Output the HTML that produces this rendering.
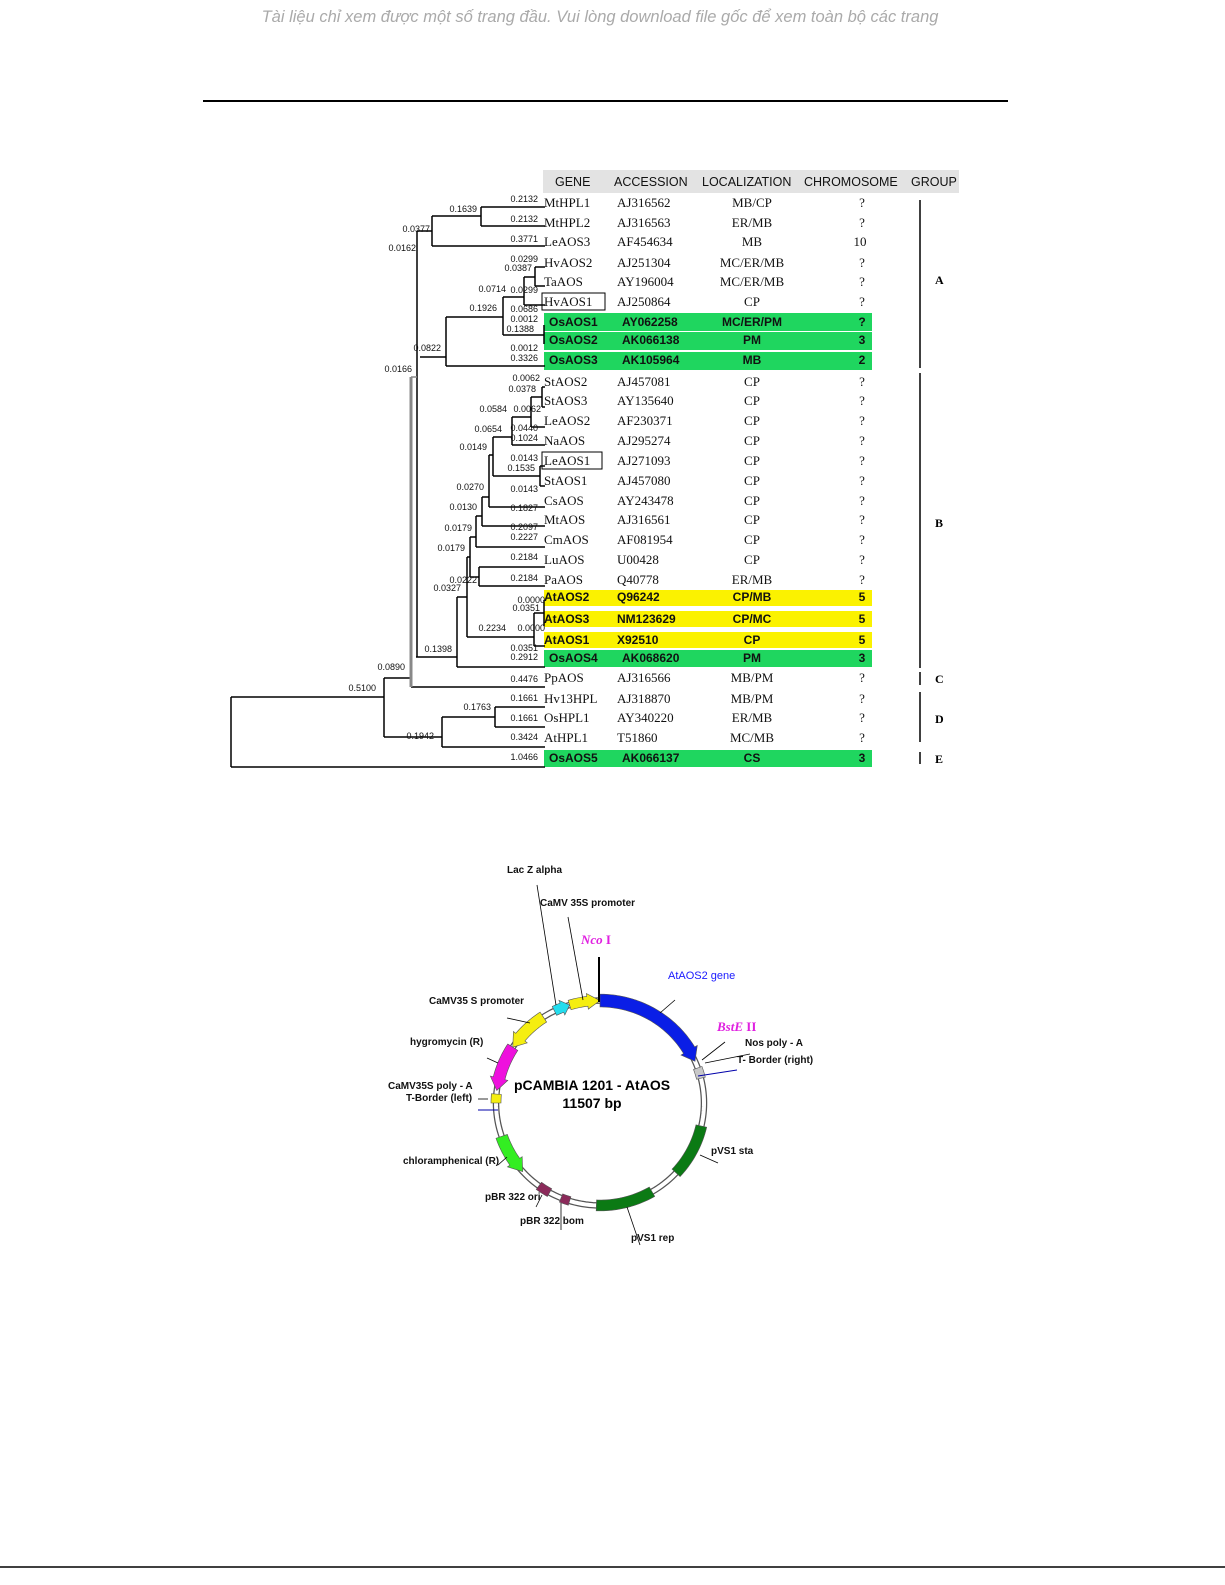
<!DOCTYPE html>
<html><head><meta charset="utf-8"><style>
html,body{margin:0;padding:0;background:#fff;}
svg{display:block;}
.s{font-family:"Liberation Serif",serif;font-size:13px;fill:#111;}
.b{font-family:"Liberation Sans",sans-serif;font-size:12px;font-weight:bold;fill:#111;}
.h{font-family:"Liberation Sans",sans-serif;font-size:12.5px;fill:#111;}
.n{font-family:"Liberation Sans",sans-serif;font-size:9px;fill:#111;}
.p{font-family:"Liberation Sans",sans-serif;font-size:10px;fill:#111;}
</style></head><body>
<svg id="sv" width="1225" height="1585" viewBox="0 0 1225 1585" xmlns="http://www.w3.org/2000/svg">
<text x="600" y="22" text-anchor="middle" font-family="Liberation Sans,sans-serif" font-size="16.5" font-style="italic" fill="#aaa">Tài liệu chỉ xem được một số trang đầu. Vui lòng download file gốc để xem toàn bộ các trang</text>
<line x1="203" y1="101" x2="1008" y2="101" stroke="#000" stroke-width="2"/>
<line x1="0" y1="1567" x2="1225" y2="1567" stroke="#000" stroke-width="1.5"/>

<rect x="543" y="170" width="416" height="23" fill="#e3e3e3"/>
<g class="h"><text x="555" y="186">GENE</text><text x="614" y="186">ACCESSION</text><text x="702" y="186">LOCALIZATION</text><text x="804" y="186">CHROMOSOME</text><text x="911" y="186">GROUP</text></g>

<g fill="#1fd65f">
<rect x="544" y="313" width="328" height="18"/><rect x="544" y="332" width="328" height="18"/><rect x="544" y="352" width="328" height="18"/>
<rect x="544" y="650" width="328" height="17"/><rect x="544" y="750" width="328" height="17"/>
</g>
<g fill="#fbf200">
<rect x="544" y="590" width="328" height="16"/><rect x="544" y="611" width="328" height="16"/><rect x="544" y="632" width="328" height="16"/>
</g>
<rect x="542" y="293" width="63" height="17" fill="none" stroke="#000" stroke-width="1"/>
<rect x="542" y="452" width="60" height="17" fill="none" stroke="#000" stroke-width="1"/>

<g id="rows"></g>

<g stroke="#000" stroke-width="1.5">
<line x1="920" y1="200" x2="920" y2="368"/><line x1="920" y1="373" x2="920" y2="668"/>
<line x1="920" y1="672" x2="920" y2="685"/><line x1="920" y1="692" x2="920" y2="742"/><line x1="920" y1="752" x2="920" y2="764"/>
</g>
<g font-family="Liberation Serif,serif" font-size="12" font-weight="bold"><text x="935" y="284">A</text><text x="935" y="527">B</text><text x="935" y="683">C</text><text x="935" y="723">D</text><text x="935" y="763">E</text></g>

<g id="tree" stroke="#000" stroke-width="1.5" fill="none"></g>
<g id="tlab" class="n" text-anchor="end"></g>

<g id="pl"></g>
<g class="p" font-weight="bold">
<text x="507" y="873">Lac Z alpha</text>
<text x="540" y="906">CaMV 35S promoter</text>
<text x="429" y="1004">CaMV35 S promoter</text>
<text x="410" y="1045">hygromycin (R)</text>
<text x="388" y="1089">CaMV35S poly - A</text>
<text x="406" y="1101">T-Border (left)</text>
<text x="745" y="1046">Nos poly - A</text>
<text x="737" y="1063">T- Border (right)</text>
<text x="711" y="1154">pVS1 sta</text>
<text x="403" y="1164">chloramphenical (R)</text>
<text x="485" y="1200">pBR 322 ori</text>
<text x="520" y="1224">pBR 322 bom</text>
<text x="631" y="1241">pVS1 rep</text>
</g>
<text x="668" y="979" font-family="Liberation Sans,sans-serif" font-size="11" fill="#1a1aff">AtAOS2 gene</text>
<text x="581" y="944" font-family="Liberation Serif,serif" font-size="13" font-weight="bold" fill="#e020e0"><tspan font-style="italic">Nco</tspan> I</text>
<text x="717" y="1031" font-family="Liberation Serif,serif" font-size="13" font-weight="bold" fill="#e020e0"><tspan font-style="italic">BstE</tspan> II</text>
<text x="592" y="1090" text-anchor="middle" font-family="Liberation Sans,sans-serif" font-size="14" font-weight="bold">pCAMBIA 1201 - AtAOS</text>
<text x="592" y="1108" text-anchor="middle" font-family="Liberation Sans,sans-serif" font-size="14" font-weight="bold">11507 bp</text>
</svg>
<script>
var NS="http://www.w3.org/2000/svg";
function el(p,t,a,txt){var e=document.createElementNS(NS,t);for(var k in a)e.setAttribute(k,a[k]);if(txt!==undefined)e.textContent=txt;document.getElementById(p).appendChild(e);return e;}
var rows=[
["MtHPL1","AJ316562","MB/CP","?",0,207],["MtHPL2","AJ316563","ER/MB","?",0,227],["LeAOS3","AF454634","MB","10",0,246],
["HvAOS2","AJ251304","MC/ER/MB","?",0,267],["TaAOS","AY196004","MC/ER/MB","?",0,286],["HvAOS1","AJ250864","CP","?",0,306],
["OsAOS1","AY062258","MC/ER/PM","?",1,326],["OsAOS2","AK066138","PM","3",1,344],["OsAOS3","AK105964","MB","2",1,364],
["StAOS2","AJ457081","CP","?",0,386],["StAOS3","AY135640","CP","?",0,405],["LeAOS2","AF230371","CP","?",0,425],
["NaAOS","AJ295274","CP","?",0,445],["LeAOS1","AJ271093","CP","?",0,465],["StAOS1","AJ457080","CP","?",0,485],
["CsAOS","AY243478","CP","?",0,505],["MtAOS","AJ316561","CP","?",0,524],["CmAOS","AF081954","CP","?",0,544],
["LuAOS","U00428","CP","?",0,564],["PaAOS","Q40778","ER/MB","?",0,584],["AtAOS2","Q96242","CP/MB","5",2,601],
["AtAOS3","NM123629","CP/MC","5",2,623],["AtAOS1","X92510","CP","5",2,644],["OsAOS4","AK068620","PM","3",1,662],
["PpAOS","AJ316566","MB/PM","?",0,682],["Hv13HPL","AJ318870","MB/PM","?",0,703],["OsHPL1","AY340220","ER/MB","?",0,722],
["AtHPL1","T51860","MC/MB","?",0,742],["OsAOS5","AK066137","CS","3",1,762]];
rows.forEach(function(r){var c=r[4]==0?"s":"b";var gx=r[4]==1?549:544;
el("rows","text",{x:gx,y:r[5],"class":c},r[0]);el("rows","text",{x:r[4]==1?622:617,y:r[5],"class":c},r[1]);
el("rows","text",{x:752,y:r[5],"class":c,"text-anchor":"middle"},r[2]);el("rows","text",{x:r[3]=="10"?860:862,y:r[5],"class":c,"text-anchor":"middle"},r[3]);});
var L=[
[481,207,481,226],[481,207,545,207],[481,226,545,226],[432,216,481,216],[432,216,432,246],[432,246,545,246],[417,231,432,231],
[417,231,417,657],[420,357,446,357],[446,317,446,366],[446,366,545,366],[446,317,503,317],[503,297,503,335],
[503,297,524,297],[524,277,524,305],[524,305,545,305],[524,277,535,277],[535,267,535,286],[535,267,545,267],[535,286,545,286],
[503,335,544,335],[544,325,544,344],
[416,657,457,657],[457,597,457,667],[457,667,545,667],[457,597,467,597],[467,557,467,637],[467,557,470,557],[470,537,470,577],
[470,577,479,577],[479,567,479,586],[479,567,545,567],[479,586,545,586],
[470,537,476,537],[476,516,476,547],[476,547,545,547],[476,516,482,516],[482,497,482,526],[482,526,545,526],
[482,497,489,497],[489,455,489,507],[489,507,545,507],[489,455,493,455],[493,437,493,476],[493,437,512,437],
[512,417,512,445],[512,445,545,445],[512,417,531,417],[531,397,531,427],[531,427,545,427],[531,397,542,397],[542,387,542,407],
[542,387,545,387],[542,407,545,407],[493,476,540,476],[540,466,540,486],[540,466,545,466],[540,486,545,486],
[467,637,534,637],[534,613,534,646],[534,646,545,646],[534,613,544,613],[544,600,544,626],
[231,697,384,697],[231,697,231,767],[231,767,545,767],[384,678,384,737],[384,678,411,678],[411,687,545,687],
[384,737,442,737],[442,717,442,747],[442,747,545,747],[442,717,495,717],[495,707,495,727],[495,707,545,707],[495,727,545,727]];
L.forEach(function(l){el("tree","line",{x1:l[0],y1:l[1],x2:l[2],y2:l[3]});});
el("tree","line",{x1:411,y1:377,x2:411,y2:687,stroke:"#888","stroke-width":3});
el("tree","line",{x1:411,y1:377,x2:417,y2:377,stroke:"#888"});
var T=[["0.2132",538,202],["0.2132",538,222],["0.3771",538,242],["0.0299",538,262],["0.0299",538,293],["0.0686",538,312],["0.0012",538,322],["0.1388",534,332],["0.0012",538,351],["0.3326",538,361],
["0.0062",540,381],["0.0378",536,392],["0.0062",541,412],["0.0584",507,412],["0.0440",538,431],["0.1024",538,441],["0.0654",502,432],["0.0149",487,450],
["0.0143",538,461],["0.1535",535,471],["0.0143",538,492],["0.0270",484,490],["0.1827",538,511],["0.0130",477,510],["0.2097",538,530],["0.2227",538,540],
["0.0179",472,531],["0.0179",465,551],["0.2184",538,560],["0.2184",538,581],["0.0222",477,583],["0.0327",461,591],["0.0000",545,603],["0.0351",540,611],
["0.2234",506,631],["0.0000",545,631],["0.0351",538,651],["0.2912",538,660],["0.1398",452,652],["0.0890",405,670],["0.4476",538,682],["0.5100",376,691],
["0.1661",538,701],["0.1763",491,710],["0.1661",538,721],["0.1942",434,739],["0.3424",538,740],["1.0466",538,760],
["0.1639",477,212],["0.0377",430,232],["0.0162",416,251],["0.0714",506,292],["0.0387",532,271],["0.1926",497,311],["0.0822",441,351],["0.0166",412,372]];
T.forEach(function(t){el("tlab","text",{x:t[1],y:t[2]},t[0]);});
var cx=600,cy=1103,R=104;
function pt(a,r){var t=a*Math.PI/180;return [cx+r*Math.sin(t),cy-r*Math.cos(t)*0.985];}
function arcPts(a1,a2,r){var p=[],n=Math.max(4,Math.ceil(Math.abs(a2-a1)));for(var i=0;i<=n;i++){p.push(pt(a1+(a2-a1)*i/n,r));}return p;}
var ring=[];for(var a=0;a<360;a+=2)ring.push(pt(a,R).join(","));
el("pl","polygon",{points:ring.join(" "),fill:"none",stroke:"#555","stroke-width":6.5});
el("pl","polygon",{points:ring.join(" "),fill:"none",stroke:"#fff","stroke-width":4});
function band(a1,a2,w,col,arrow){
 var h=w/2,pts;var d=(a2>a1?1:-1)*Math.min(7,Math.abs(a2-a1)*0.5);
 if(arrow=="end"){var b=a2-d;pts=arcPts(a1,b,R+h).concat([pt(b,R+h+3),pt(a2,R),pt(b,R-h-3)]).concat(arcPts(b,a1,R-h));}
 else if(arrow=="start"){var b=a1+d;pts=[pt(a1,R),pt(b,R+h+3)].concat(arcPts(b,a2,R+h)).concat(arcPts(a2,b,R-h)).concat([pt(b,R-h-3)]);}
 else pts=arcPts(a1,a2,R+h).concat(arcPts(a2,a1,R-h));
 el("pl","polygon",{points:pts.map(function(p){return p.join(",")}).join(" "),fill:col,stroke:"#555","stroke-width":0.6});}
band(0,66,13,"#0a1ee6","end");
band(70,76,9,"#c8c8c8");
band(103,133,11,"#0b7a14");
band(150,182,11,"#0b7a14");
band(197,202,9,"#8b2a5a");band(209,216,9,"#8b2a5a");
band(228,251,12,"#33ee22","start");
band(270,275,10,"#f5ee10");
band(277,303,12,"#ee11dd","start");
band(303,327,12,"#f5ee10","start");
band(334,343,10,"#22ddee","end");
band(343,360,10,"#f5ee10","end");
var LN=[[537,885,556,1005],[568,917,583,1000],[599,957,599,1002,2],[675,1000,660,1013],[725,1042,702,1060],[750,1054,705,1063],
[507,1018,530,1023],[487,1058,498,1063],[478,1099,488,1099],[498,1165,507,1157],[536,1207,542,1195],[561,1230,561,1203],[640,1245,627,1207],[718,1163,700,1155]];
LN.forEach(function(l){el("pl","line",{x1:l[0],y1:l[1],x2:l[2],y2:l[3],stroke:"#000","stroke-width":l[4]||0.8});});
el("pl","line",{x1:698,y1:1076,x2:737,y2:1070,stroke:"#0000aa","stroke-width":1});
el("pl","line",{x1:478,y1:1110,x2:498,y2:1110,stroke:"#0000aa","stroke-width":1});
</script>
</body></html>
